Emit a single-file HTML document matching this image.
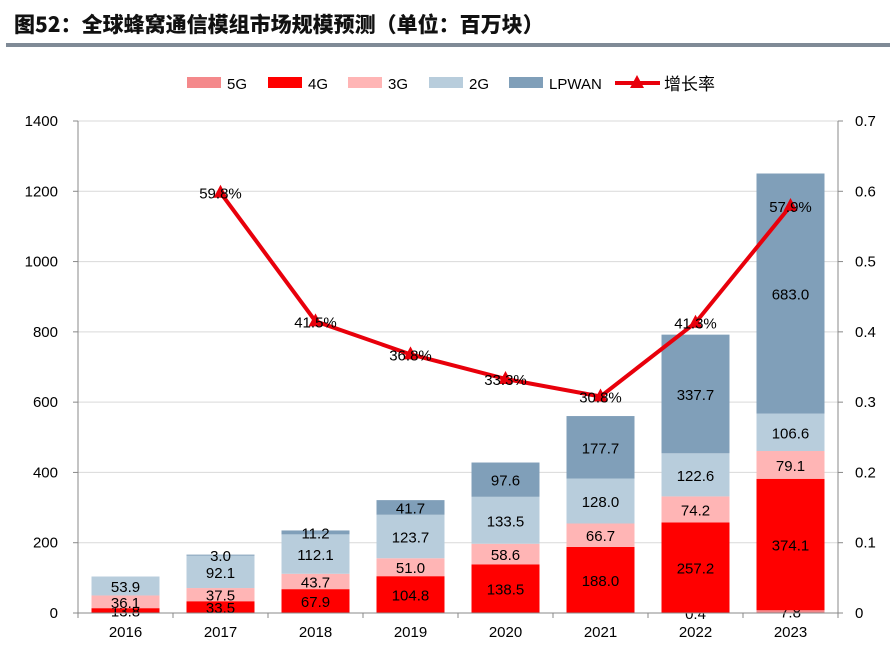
<!DOCTYPE html>
<html><head><meta charset="utf-8"><style>
body{margin:0;background:#fff;width:890px;height:658px;overflow:hidden;font-family:"Liberation Sans","Noto Sans CJK SC",sans-serif}
svg text{font-family:"Liberation Sans","Noto Sans CJK SC",sans-serif}
</style></head><body>
<svg width="890" height="658">
<text x="14" y="32" font-size="21" font-weight="900" fill="#111" style="font-family:'Noto Sans CJK SC',sans-serif">图52：全球蜂窝通信模组市场规模预测（单位：百万块）</text>
<rect x="6" y="43" width="884" height="4" fill="#7f8a96"/>
<g id="legend"></g>
<g id="grid"></g><g id="bars"></g><g id="axes"></g><g id="line"></g>
</svg>
<script>
const years=["2016","2017","2018","2019","2020","2021","2022","2023"];
const s5G=[0,0,0,0,0,0,0.4,7.8];
const s4G=[13.8,33.5,67.9,104.8,138.5,188.0,257.2,374.1];
const s3G=[36.1,37.5,43.7,51.0,58.6,66.7,74.2,79.1];
const s2G=[53.9,92.1,112.1,123.7,133.5,128.0,122.6,106.6];
const sLP=[0,3.0,11.2,41.7,97.6,177.7,337.7,683.0];
const growth=[null,0.598,0.415,0.368,0.333,0.308,0.413,0.579];
const growthLabels=[null,"59.8%","41.5%","36.8%","33.3%","30.8%","41.3%","57.9%"];
const leftTicks=[0,200,400,600,800,1000,1200,1400];
const rightTicks=["0","0.1","0.2","0.3","0.4","0.5","0.6","0.7"];
const NS="http://www.w3.org/2000/svg";
const X0=78,X1=838,Y0=613,Y1=121;
const y=v=>Y0-(v/1400)*(Y0-Y1);
const yr=v=>Y0-(v/0.7)*(Y0-Y1);
const step=(X1-X0)/years.length;
const xc=i=>X0+step*(i+0.5);
function mk(tag,attrs,parent){const e=document.createElementNS(NS,tag);for(const k in attrs)e.setAttribute(k,attrs[k]);document.getElementById(parent).appendChild(e);return e;}
leftTicks.forEach((t,i)=>{
 if(t>0){const g=mk('line',{x1:X0,x2:X1,y1:y(t),y2:y(t),stroke:'#d9d9d9','stroke-width':1},'grid');
 
 }
 const l=mk('text',{x:X0-20,y:y(t)+5,'text-anchor':'end','font-size':15,fill:'#000'},'axes');l.textContent=t;
 
 
 const r=mk('text',{x:X1+17,y:yr(i*0.1)+5,'font-size':15,fill:'#000'},'axes');r.textContent=rightTicks[i];
 
 
 mk('line',{x1:X0-5,x2:X0,y1:y(t),y2:y(t),stroke:'#888'},'axes');
 mk('line',{x1:X1,x2:X1+5,y1:y(t),y2:y(t),stroke:'#888'},'axes');
});
mk('line',{x1:X0,x2:X0,y1:Y1,y2:Y0,stroke:'#888'},'axes');
mk('line',{x1:X1,x2:X1,y1:Y1,y2:Y0,stroke:'#888'},'axes');
mk('line',{x1:X0,x2:X1,y1:Y0,y2:Y0,stroke:'#888'},'axes');
for(let i=0;i<=years.length;i++)mk('line',{x1:X0+step*i,x2:X0+step*i,y1:Y0,y2:Y0+5,stroke:'#888'},'axes');
const series=[["5G",s5G,"#f4898b"],["4G",s4G,"#ff0000"],["3G",s3G,"#ffb5b5"],["2G",s2G,"#b8cddc"],["LPWAN",sLP,"#809fb9"]];
const bw=68;
years.forEach((yy,i)=>{
 const xl=mk('text',{x:xc(i),y:Y0+24,'text-anchor':'middle','font-size':15,fill:'#000'},'axes');xl.textContent=yy;
 
 
 let base=0;
 series.forEach(([n,arr,c])=>{
  const v=arr[i];
  if(v>0){
   const r=mk('rect',{x:xc(i)-bw/2,y:y(base+v),width:bw,height:y(base)-y(base+v),fill:c},'bars');
   
   
   const t=mk('text',{x:xc(i),y:y(base+v/2)+6,'text-anchor':'middle','font-size':15,fill:'#000'},'bars');
   t.textContent=v.toFixed(1);
   
   
  }
  base+=v;
 });
});
let pts=[];growth.forEach((g,i)=>{if(g!=null)pts.push(xc(i)+','+yr(g));});
const pl=mk('polyline',{points:pts.join(' '),fill:'none',stroke:'#e8000b','stroke-width':4},'line');


growth.forEach((g,i)=>{if(g==null)return;const cx=xc(i),cy=yr(g);
 const m=mk('polygon',{points:`${cx},${cy-8} ${cx-7},${cy+5} ${cx+7},${cy+5}`,fill:'#e8000b'},'line');
 
 
 const t=mk('text',{x:cx,y:cy+6,'text-anchor':'middle','font-size':15,fill:'#000'},'line');t.textContent=growthLabels[i];
 
 
});
const leg=[["5G","#f4898b",187],["4G","#ff0000",268],["3G","#ffb5b5",348],["2G","#b8cddc",429],["LPWAN","#809fb9",509]];
leg.forEach(([n,c,x])=>{
 const r=mk('rect',{x:x,y:77,width:34,height:11,fill:c},'legend');
 
 
 const t=mk('text',{x:x+40,y:89,'font-size':15,fill:'#000'},'legend');t.textContent=n;
 
 
});
const ll=mk('line',{x1:615,x2:660,y1:83,y2:83,stroke:'#e8000b','stroke-width':4},'legend');


mk('polygon',{points:'637,75 630,88 644,88',fill:'#e8000b'},'legend');
const lt=mk('text',{x:664,y:90,'font-size':17,fill:'#000'},'legend');lt.textContent='增长率';


</script>
</body></html>
